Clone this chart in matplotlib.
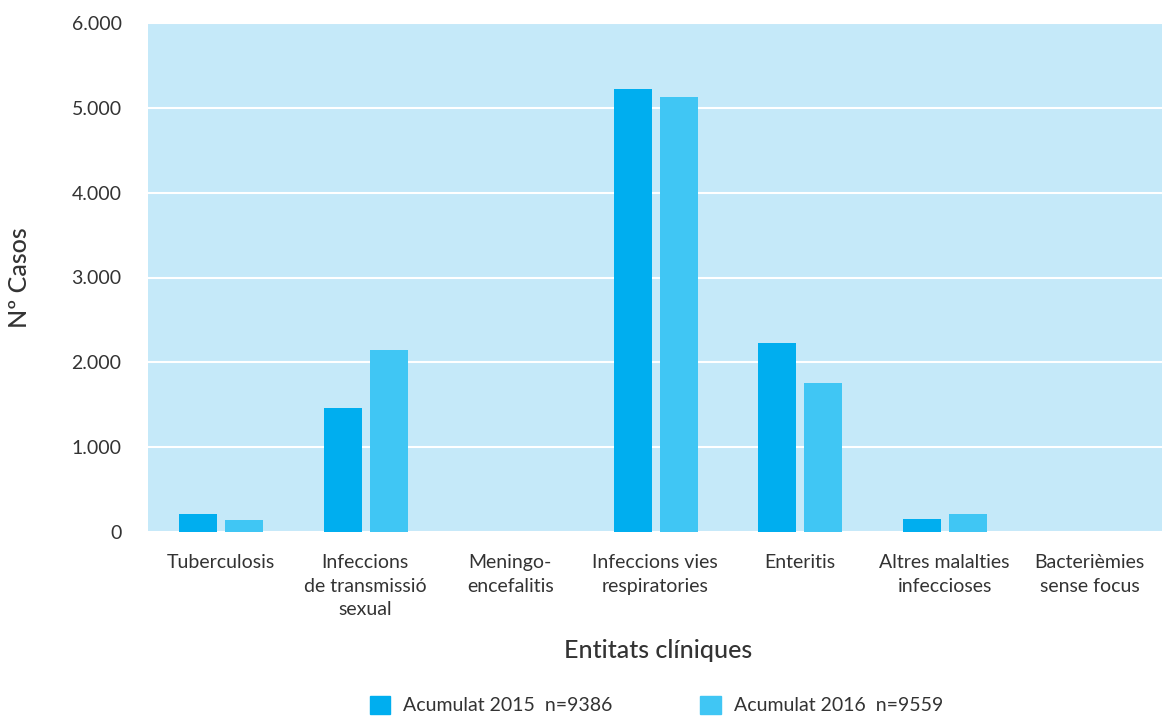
import matplotlib.pyplot as plt
import numpy as np
from matplotlib.patches import Patch
from matplotlib.ticker import FuncFormatter

categories = [
    "Tuberculosis",
    "Infeccions\nde transmissió\nsexual",
    "Meningo-\nencefalitis",
    "Infeccions vies\nrespiratories",
    "Enteritis",
    "Altres malalties\ninfeccioses",
    "Bacterièmies\nsense focus",
]
cases_2015 = [212, 1462, 0, 5224, 2229, 153, 0]
cases_2016 = [140, 2146, 0, 5130, 1757, 212, 0]
label_2015 = "Acumulat 2015  n=9386"
label_2016 = "Acumulat 2016  n=9559"

plt.rcParams["font.family"] = ["Lato", "DejaVu Sans"]

C2015 = "#00AEEF"
C2016 = "#40C6F4"
BG = "#C5E9F9"
TXT = "#333333"

fig = plt.figure(figsize=(11.62, 7.18), dpi=100)
ax = fig.add_axes([148 / 1162, 1 - 532 / 718, 1014 / 1162, 509 / 718])
ax.set_facecolor(BG)

x = np.arange(len(categories))
w = 0.262
ax.bar(x - 0.155, cases_2015, w, color=C2015, zorder=3)
ax.bar(x + 0.163, cases_2016, w, color=C2016, zorder=3)

ax.set_xlim(-0.5, len(categories) - 0.5)
ax.set_ylim(0, 6000)
ax.set_yticks(np.arange(0, 6001, 1000))
ax.yaxis.set_major_formatter(FuncFormatter(lambda v, p: f"{int(v):,}".replace(",", ".")))
ax.grid(axis="y", color="white", linewidth=1.5, zorder=1)
ax.set_axisbelow(True)
for s in ax.spines.values():
    s.set_visible(False)
ax.tick_params(length=0, labelsize=14, colors=TXT)
ax.tick_params(axis="y", pad=19)
ax.tick_params(axis="x", pad=16)
ax.set_xticks(x)
ax.set_xticklabels(categories, linespacing=1.45, va="top")

fig.text(20 / 1162, 1 - 278 / 718, "Nº Casos", fontsize=18, color=TXT, fontweight="medium",
         rotation=90, ha="center", va="center")
fig.text(658 / 1162, 1 - 650 / 718, "Entitats clíniques", fontsize=18, color=TXT,
         fontweight="medium", ha="center", va="center")

handles = [Patch(color=C2015), Patch(color=C2016)]
fig.legend(handles, [label_2015, label_2016], loc="center", bbox_to_anchor=(0.565, 1 - 705 / 718),
           ncol=2, frameon=False, fontsize=14, handlelength=1.05, handleheight=1.1,
           columnspacing=4.5, handletextpad=0.67, labelcolor=TXT)

fig.savefig("out.png", dpi=100)
